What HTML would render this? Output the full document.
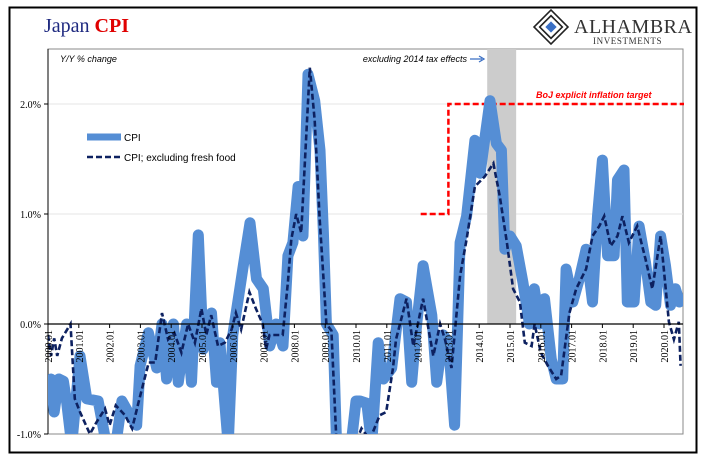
<!DOCTYPE html>
<html><head><meta charset="utf-8"><style>
body{margin:0;background:#fff;width:705px;height:461px;overflow:hidden}
svg{display:block}
</style></head><body>
<svg id="chart" width="705" height="461" xmlns="http://www.w3.org/2000/svg">
<rect x="9.5" y="7.5" width="687" height="445" fill="#fff" stroke="#000" stroke-width="2"/>
<text x="44" y="32" font-family="Liberation Serif, serif" font-size="20"><tspan fill="#1f2a80">Japan </tspan><tspan fill="#e00000" font-weight="bold">CPI</tspan></text>
<g>
<g transform="translate(551,27) rotate(45)" fill="none" stroke="#222" stroke-width="1.6">
<rect x="-12" y="-12" width="24" height="24"/><rect x="-8" y="-8" width="16" height="16"/><rect x="-4" y="-4" width="8" height="8" fill="#3a6fc4" stroke="none"/>
</g>
<text x="574" y="33" font-family="Liberation Serif, serif" font-size="20" fill="#333" letter-spacing="0.5">ALHAMBRA</text>
<text x="593" y="44" font-family="Liberation Serif, serif" font-size="9" fill="#333" letter-spacing="0.6">INVESTMENTS</text>
</g>
<g id="plot"></g>
</svg>
<script>
const cpiDates=[2000.0,2000.1,2000.2,2000.35,2000.5,2000.6,2000.77,2001.04,2001.26,2001.63,2001.9,2002.2,2002.4,2002.66,2002.88,2002.99,2003.26,2003.53,2003.7,2003.85,2004.07,2004.23,2004.5,2004.66,2004.88,2005.04,2005.31,2005.47,2005.58,2005.85,2006.0,2006.34,2006.56,2006.77,2006.99,2007.2,2007.41,2007.63,2007.79,2007.95,2008.12,2008.28,2008.44,2008.66,2008.83,2008.94,2009.04,2009.26,2009.37,2009.8,2010.0,2010.13,2010.35,2010.51,2010.72,2010.89,2011.16,2011.43,2011.64,2011.81,2011.97,2012.18,2012.46,2012.62,2012.83,2013.0,2013.2,2013.38,2013.59,2013.86,2014.03,2014.35,2014.56,2014.72,2014.83,2015.0,2015.2,2015.42,2015.63,2015.79,2015.96,2016.12,2016.34,2016.5,2016.71,2016.82,2017.04,2017.25,2017.47,2017.68,2017.84,2018.0,2018.17,2018.38,2018.49,2018.7,2018.81,2019.03,2019.19,2019.4,2019.57,2019.73,2019.89,2020.05,2020.21,2020.37,2020.5];
const cpiValues=[-0.68,-0.5,-0.8,-0.5,-0.52,-0.7,-1.1,-0.29,-0.68,-0.7,-1.1,-1.1,-0.7,-0.83,-0.92,-0.38,-0.08,-0.4,0.0,-0.5,0.0,-0.53,0.0,-0.53,0.81,-0.23,0.1,-0.53,-0.17,-1.1,-0.1,0.53,0.92,0.41,0.32,-0.2,0.0,-0.2,0.62,0.74,1.25,0.8,2.27,2.03,1.58,0.83,0.0,-0.1,-1.1,-1.2,-0.7,-0.7,-0.72,-1.1,-0.17,-0.5,-0.4,0.23,0.2,-0.53,0.0,0.53,0.08,-0.53,-0.1,-0.16,-0.92,0.74,0.98,1.67,1.37,2.03,1.64,1.58,0.68,0.8,0.71,0.38,0.0,0.32,0.0,0.23,-0.32,-0.5,-0.5,0.5,0.2,0.41,0.68,0.2,0.98,1.49,0.62,0.62,1.31,1.4,0.2,0.2,0.89,0.56,0.2,0.17,0.8,0.53,0.17,0.32,0.2];
const coreDates=[2000.0,2000.1,2000.2,2000.3,2000.45,2000.73,2000.87,2001.04,2001.36,2001.58,2001.85,2002.0,2002.2,2002.5,2002.73,2002.94,2003.27,2003.48,2003.7,2003.9,2004.1,2004.33,2004.55,2004.77,2004.98,2005.14,2005.3,2005.52,2005.74,2005.96,2006.1,2006.27,2006.54,2006.75,2006.97,2007.08,2007.19,2007.62,2007.79,2007.9,2008.06,2008.22,2008.5,2008.66,2008.82,2009.04,2009.2,2009.37,2009.8,2010.18,2010.45,2010.77,2010.98,2011.2,2011.3,2011.64,2011.86,2012.18,2012.51,2012.73,2012.89,2013.1,2013.38,2013.59,2013.86,2014.18,2014.46,2014.67,2014.9,2015.1,2015.32,2015.48,2015.7,2015.8,2016.0,2016.23,2016.5,2016.66,2016.93,2017.15,2017.47,2017.68,2017.9,2018.06,2018.27,2018.49,2018.65,2018.86,2019.13,2019.4,2019.62,2019.89,2020.16,2020.32,2020.48,2020.54];
const coreValues=[-0.1,-0.29,-0.13,-0.29,-0.13,0.0,-0.68,-0.8,-1.0,-0.89,-0.77,-0.92,-0.74,-0.83,-0.95,-0.71,-0.35,-0.35,0.1,-0.14,-0.08,-0.26,0.0,-0.17,0.14,-0.1,0.08,-0.2,-0.17,-0.05,0.1,-0.05,0.29,0.14,0.0,-0.23,-0.1,-0.1,0.38,0.77,1.0,0.83,2.33,1.85,0.95,0.0,-0.06,-1.1,-1.2,-0.95,-1.05,-0.83,-0.8,-0.4,-0.14,0.23,-0.2,0.23,-0.29,0.0,-0.14,-0.4,0.44,0.77,1.25,1.34,1.46,1.16,0.74,0.32,0.2,-0.17,-0.2,0.0,-0.26,-0.38,-0.5,-0.47,0.1,0.32,0.5,0.8,0.89,0.98,0.71,0.8,0.98,0.74,0.89,0.59,0.32,0.8,0.02,-0.14,0.02,-0.38];
const yTicks=[2.0,1.0,0.0,-1.0];
const yTickLabels=["2.0%","1.0%","0.0%","-1.0%"];
const yearTicks=[2000,2001,2002,2003,2004,2005,2006,2007,2008,2009,2010,2011,2012,2013,2014,2015,2016,2017,2018,2019,2020];
const targetDates=[2012.1,2013.0,2013.0,2020.65];
const targetValues=[1.0,1.0,2.0,2.0];
const shadeRange=[2014.26,2015.2];

const L=48,R=683,T=49,B=434;
const X=d=>L+(d-2000)*30.8;
const Y=v=>324-v*110;
const NS="http://www.w3.org/2000/svg";
const g=document.getElementById('plot');
function mk(tag,attrs,parent){const e=document.createElementNS(NS,tag);for(const k in attrs)e.setAttribute(k,attrs[k]);(parent||g).appendChild(e);return e;}

const defs=mk('defs',{});
const cp=mk('clipPath',{id:'clip'},defs);
mk('rect',{x:L,y:T,width:R-L,height:B-T},cp);

const frame=mk('rect',{x:L,y:T,width:R-L,height:B-T,fill:'none',stroke:'#888','stroke-width':1});



yTicks.forEach((v,i)=>{
  if(v!==0&&v!==-1){const gl=mk('line',{x1:L,x2:R,y1:Y(v),y2:Y(v),stroke:'#e4e4e4','stroke-width':1});
  
  }
  const tk=mk('line',{x1:L-4,x2:L,y1:Y(v),y2:Y(v),stroke:'#000'});
  
  
  const t=mk('text',{x:L-7,y:Y(v)+4,'text-anchor':'end','font-family':'Liberation Serif, serif','font-size':10,fill:'#000'});
  t.textContent=yTickLabels[i];
  
  
});
const ya=mk('line',{x1:L,x2:L,y1:T,y2:B,stroke:'#000'});



const sh=mk('rect',{x:X(shadeRange[0]),y:T,width:X(shadeRange[1])-X(shadeRange[0]),height:Y(0)-T,fill:'#cccccc'});



function pts(ds,vs){return ds.map((d,i)=>X(d).toFixed(1)+','+Y(vs[i]).toFixed(1)).join(' ');}
const tgt=mk('polyline',{points:pts(targetDates,targetValues),fill:'none',stroke:'#ff0000','stroke-width':2.5,'stroke-dasharray':'6,3'});



const cg=mk('g',{'clip-path':'url(#clip)'});
const c1=mk('polyline',{points:pts(cpiDates,cpiValues),fill:'none',stroke:'#558ed5','stroke-width':11,'stroke-linejoin':'round','stroke-linecap':'round'},cg);


const c2=mk('polyline',{points:pts(coreDates,coreValues),fill:'none',stroke:'#0d2160','stroke-width':2.6,'stroke-dasharray':'6,3'},cg);



const xa=mk('line',{x1:L,x2:R,y1:Y(0),y2:Y(0),stroke:'#000','stroke-width':1.2});


yearTicks.forEach(yr=>{
  const x=X(yr);
  const tk=mk('line',{x1:x,x2:x,y1:Y(0),y2:Y(0)+4,stroke:'#000'});
  
  
  const t=mk('text',{x:0,y:0,transform:`translate(${x+4},${Y(0)+6}) rotate(-90)`,'text-anchor':'end','font-family':'Liberation Serif, serif','font-size':10,fill:'#000'});
  t.textContent=yr+'.01';
  
  
});

const a1=mk('text',{x:60,y:62,'font-family':'Liberation Sans, sans-serif','font-size':9,'font-style':'italic',fill:'#000'});
a1.textContent='Y/Y % change';


const a2=mk('text',{x:467,y:62,'text-anchor':'end','font-family':'Liberation Sans, sans-serif','font-size':9,'font-style':'italic',fill:'#000'});
a2.textContent='excluding 2014 tax effects';


const ar=mk('path',{d:'M470 59 H482 M479 56 L484 59 L479 62',stroke:'#3a6fc4',fill:'none','stroke-width':1.3});


const a3=mk('text',{x:536,y:98,'font-family':'Liberation Sans, sans-serif','font-size':9,'font-style':'italic','font-weight':'bold',fill:'#ff0000'});
a3.textContent='BoJ explicit inflation target';



const lg=mk('g',{});


const l1=mk('line',{x1:87,x2:121,y1:137,y2:137,stroke:'#558ed5','stroke-width':7},lg);


const lt1=mk('text',{x:124,y:141,'font-family':'Liberation Sans, sans-serif','font-size':10,fill:'#000'},lg);
lt1.textContent='CPI';


const l2=mk('line',{x1:87,x2:121,y1:157,y2:157,stroke:'#0d2160','stroke-width':2.6,'stroke-dasharray':'6,3'},lg);


const lt2=mk('text',{x:124,y:161,'font-family':'Liberation Sans, sans-serif','font-size':10,fill:'#000'},lg);
lt2.textContent='CPI; excluding fresh food';


</script>
</body></html>
